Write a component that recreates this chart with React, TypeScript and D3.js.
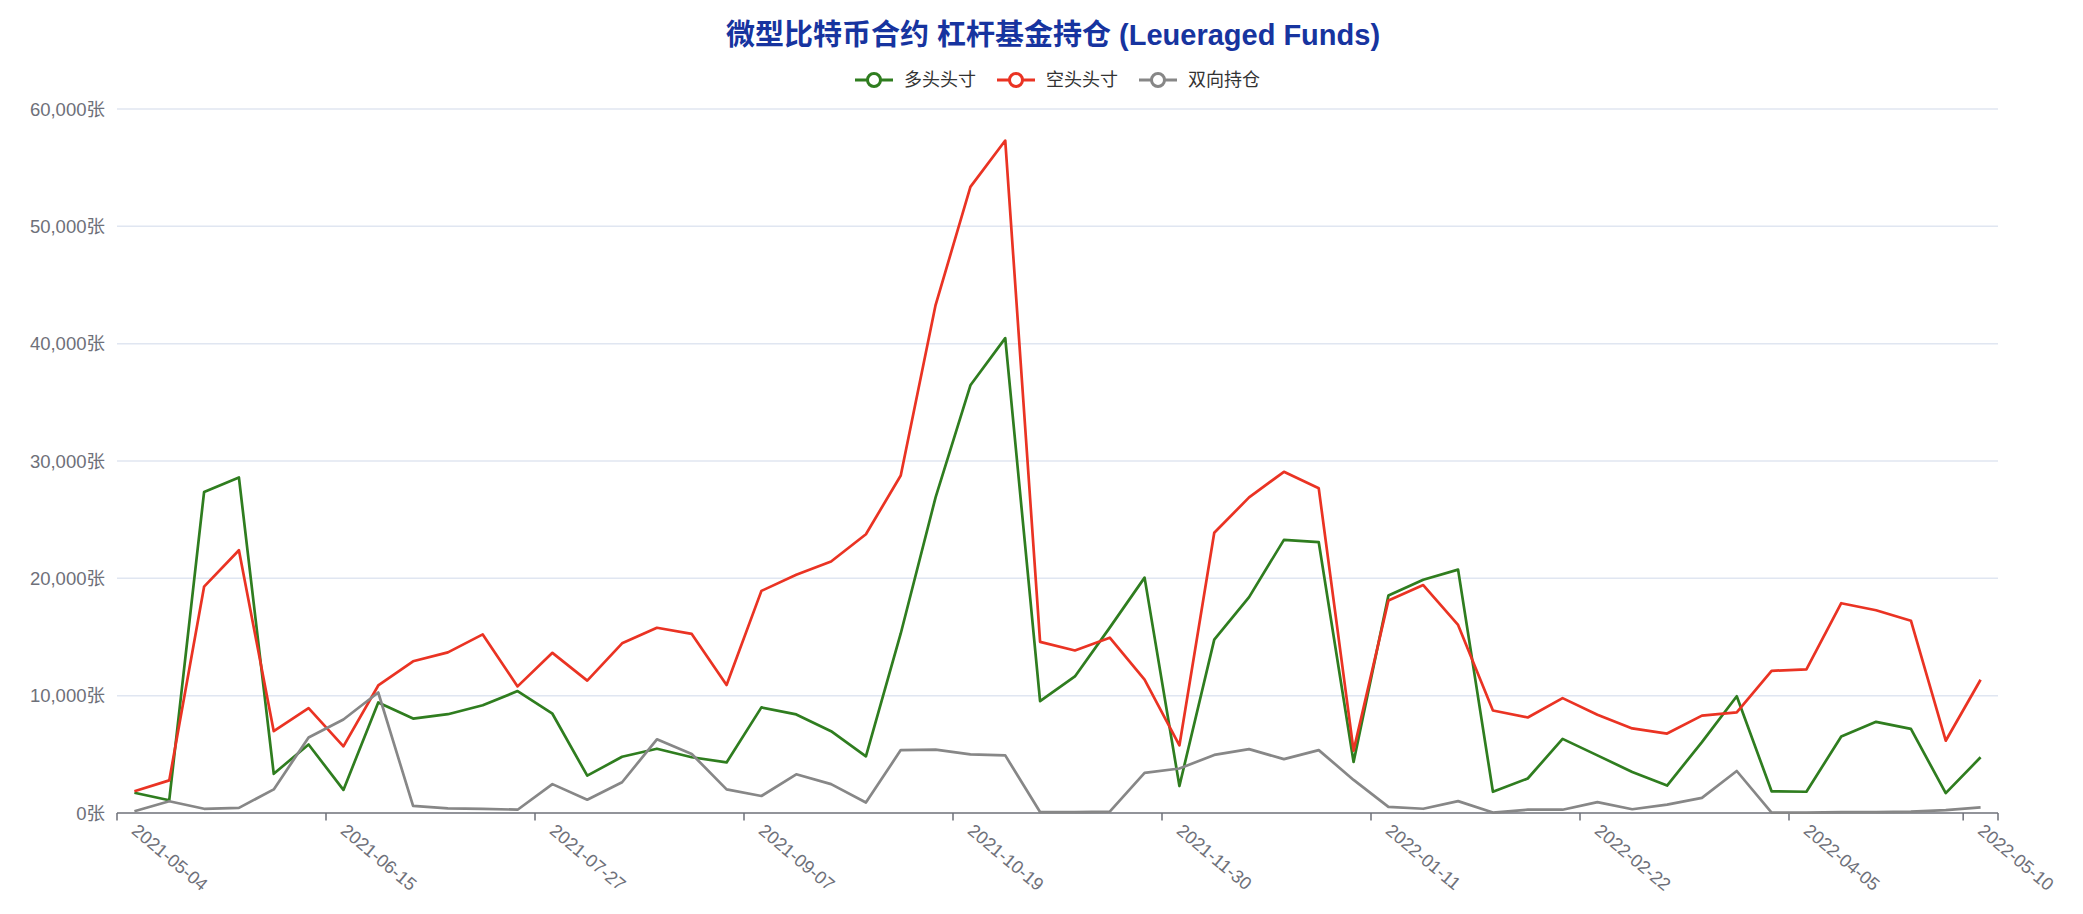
import React from "react";
import * as d3 from "d3";

// 周度日期 (CFTC 报告日)
const dates = [
  "2021-05-04", "2021-05-11", "2021-05-18", "2021-05-25", "2021-06-01", "2021-06-08",
  "2021-06-15", "2021-06-22", "2021-06-29", "2021-07-06", "2021-07-13", "2021-07-20",
  "2021-07-27", "2021-08-03", "2021-08-10", "2021-08-17", "2021-08-24", "2021-08-31",
  "2021-09-07", "2021-09-14", "2021-09-21", "2021-09-28", "2021-10-05", "2021-10-12",
  "2021-10-19", "2021-10-26", "2021-11-02", "2021-11-09", "2021-11-16", "2021-11-23",
  "2021-11-30", "2021-12-07", "2021-12-14", "2021-12-21", "2021-12-28", "2022-01-04",
  "2022-01-11", "2022-01-18", "2022-01-25", "2022-02-01", "2022-02-08", "2022-02-15",
  "2022-02-22", "2022-03-01", "2022-03-08", "2022-03-15", "2022-03-22", "2022-03-29",
  "2022-04-05", "2022-04-12", "2022-04-19", "2022-04-26", "2022-05-03", "2022-05-10",
];

const longPositions = [
  1730, 1090, 27350, 28600, 3340, 5840, 1970, 9420, 8050, 8420, 9180, 10390,
  8460, 3180, 4790, 5480, 4750, 4310, 9000, 8400, 6970, 4830, 15300, 26900,
  36450, 40470, 9540, 11640, 15800, 20060, 2300, 14780, 18400, 23280, 23080, 4350,
  18530, 19880, 20740, 1810, 2940, 6320, 4910, 3500, 2340, 6040, 9950, 1850,
  1810, 6520, 7770, 7170, 1690, 4750,
];

const shortPositions = [
  1850, 2780, 19290, 22390, 6970, 8940, 5680, 10870, 12930, 13690, 15220, 10790,
  13650, 11280, 14460, 15790, 15260, 10910, 18930, 20300, 21430, 23760, 28760, 43290,
  53360, 57310, 14580, 13850, 14940, 11360, 5760, 23880, 26900, 29080, 27670, 5320,
  18120, 19430, 16030, 8740, 8140, 9790, 8380, 7210, 6770, 8300, 8580, 12120,
  12240, 17880, 17280, 16390, 6160, 11360,
];

const spreadPositions = [
  150, 1000, 360, 440, 2010, 6440, 7970, 10270, 600, 400, 360, 280,
  2460, 1130, 2620, 6280, 5030, 2010, 1450, 3300, 2460, 890, 5360, 5400,
  4990, 4910, 80, 80, 120, 3420, 3790, 4950, 5440, 4590, 5360, 2820,
  520, 360, 1010, 40, 280, 280, 930, 320, 720, 1290, 3580, 40,
  40, 80, 80, 120, 240, 480,
];

const yTicks = [0, 10000, 20000, 30000, 40000, 50000, 60000];
const labelEvery = 6;

const series = [
  { name: "多头头寸", values: longPositions, color: "#2f7d1f" },
  { name: "空头头寸", values: shortPositions, color: "#ea3323" },
  { name: "双向持仓", values: spreadPositions, color: "#878787" },
];

const W = 2083;
const H = 914;
const margin = { top: 109, right: 85, bottom: 101, left: 117 };
const FONT = "'Liberation Sans', 'Noto Sans CJK SC', Arial, sans-serif";

export default function App() {
  const x = d3
    .scaleBand<string>()
    .domain(dates)
    .range([margin.left, W - margin.right])
    .padding(0);
  const y = d3
    .scaleLinear()
    .domain([0, 60000])
    .range([H - margin.bottom, margin.top]);

  const bw = x.bandwidth();
  const cx = (d: string) => (x(d) as number) + bw / 2;
  const fmt = d3.format(",");

  const line = d3
    .line<number>()
    .x((_, i) => cx(dates[i]))
    .y((v) => y(v));

  // 刻度/标签的类目索引 (每6周一个, 外加最后一个)
  const labelIdx = dates
    .map((_, i) => i)
    .filter((i) => i % labelEvery === 0 || i === dates.length - 1);
  const tickIdx = [...labelIdx, dates.length];
  const y0 = y(0);

  const legendStep = 142;
  const legendStart = 1058 - (legendStep * series.length - 20) / 2;

  return (
    <svg
      width={W}
      height={H}
      style={{ position: "absolute", left: 0, top: 0, background: "#fff" }}
      fontFamily={FONT}
    >
      <text
        x={1053}
        y={35}
        textAnchor="middle"
        dominantBaseline="central"
        fontSize={29}
        fontWeight="bold"
        fill="#17349f"
      >
        微型比特币合约 杠杆基金持仓 (Leueraged Funds)
      </text>

      {series.map((s, k) => {
        const lx = legendStart + k * legendStep;
        return (
          <g key={s.name} transform={`translate(${lx},80)`}>
            <line x1={0} x2={38} y1={0} y2={0} stroke={s.color} strokeWidth={3} />
            <circle cx={19} cy={0} r={6.5} fill="#fff" stroke={s.color} strokeWidth={3} />
            <text x={49} y={0} dominantBaseline="central" fontSize={18} fill="#333">
              {s.name}
            </text>
          </g>
        );
      })}

      {yTicks.map((t) => (
        <g key={t}>
          {t > 0 && (
            <line
              x1={margin.left}
              x2={W - margin.right}
              y1={y(t)}
              y2={y(t)}
              stroke="#e0e6f1"
              strokeWidth={1.5}
            />
          )}
          <text
            x={margin.left - 12}
            y={y(t)}
            textAnchor="end"
            dominantBaseline="central"
            fontSize={18.5}
            fill="#6e7079"
          >
            {fmt(t)}张
          </text>
        </g>
      ))}

      <line
        x1={margin.left}
        x2={W - margin.right}
        y1={y0}
        y2={y0}
        stroke="#6e7079"
        strokeWidth={1.5}
      />
      {tickIdx.map((i) => {
        const tx = margin.left + i * bw;
        return (
          <line key={i} x1={tx} x2={tx} y1={y0} y2={y0 + 7.5} stroke="#6e7079" strokeWidth={1.5} />
        );
      })}
      {labelIdx.map((i) => (
        <text
          key={i}
          transform={`translate(${cx(dates[i])},${y0 + 15}) rotate(40)`}
          dominantBaseline="central"
          fontSize={18}
          fill="#6e7079"
        >
          {dates[i]}
        </text>
      ))}

      {series.map((s) => (
        <path
          key={s.name}
          d={line(s.values) as string}
          fill="none"
          stroke={s.color}
          strokeWidth={2.7}
          strokeLinejoin="round"
        />
      ))}
    </svg>
  );
}
